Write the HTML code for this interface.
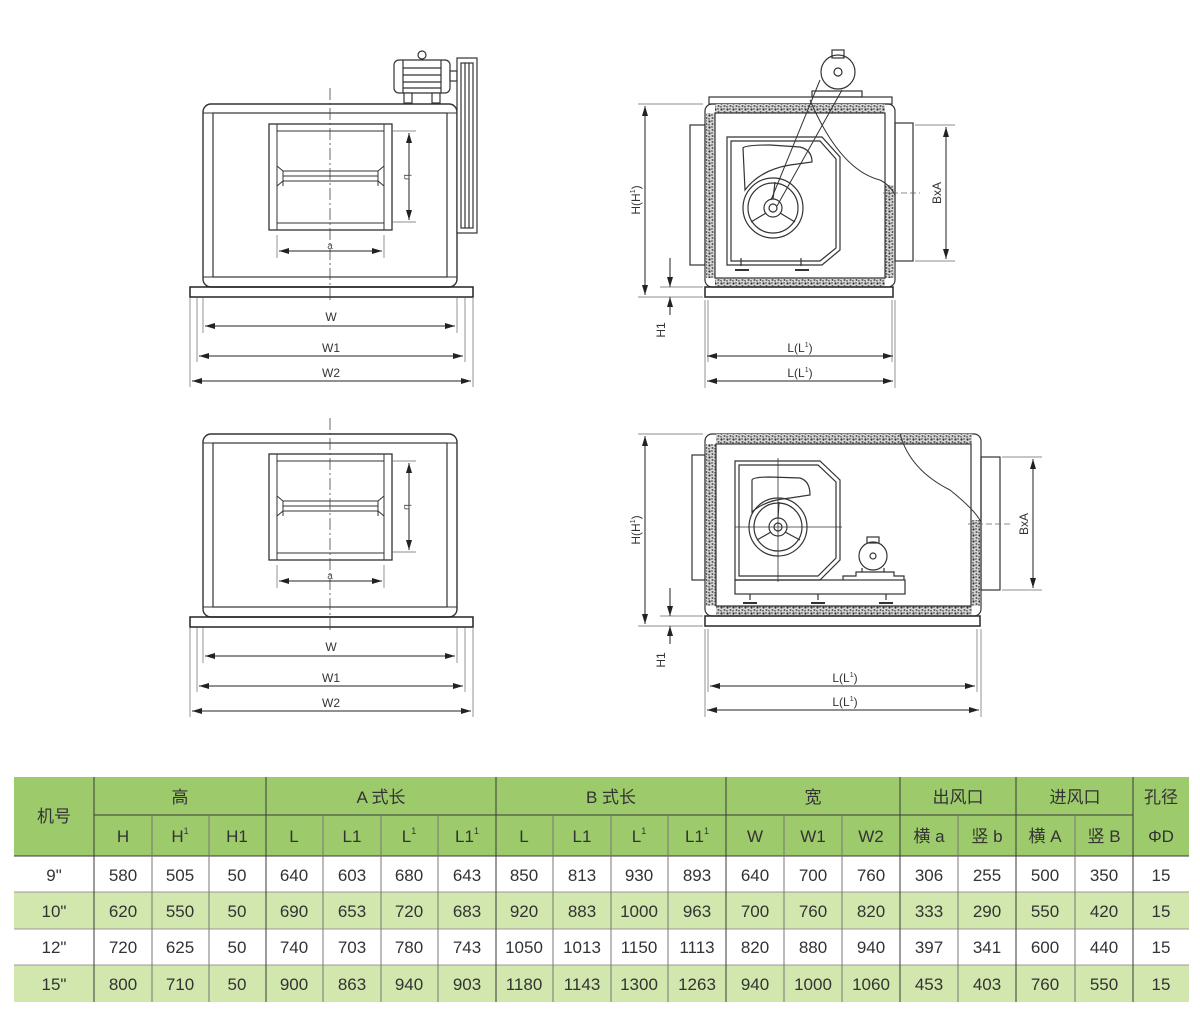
<!DOCTYPE html>
<html><head><meta charset="utf-8">
<style>
html,body{margin:0;padding:0;background:#fff;}
body{width:1200px;height:1010px;position:relative;overflow:hidden;font-family:"Liberation Sans","Noto Sans CJK SC",sans-serif;}
svg text{font-family:"Liberation Sans","Noto Sans CJK SC",sans-serif;}
</style></head><body>
<svg width="1200" height="1010" viewBox="0 0 1200 1010" xmlns="http://www.w3.org/2000/svg">
<defs>
<pattern id="ins" width="6" height="6" patternUnits="userSpaceOnUse">
<rect width="6" height="6" fill="#d6d6d6"/>
<circle cx="1.5" cy="1.5" r="1.1" fill="#333"/><circle cx="4.5" cy="4" r="1" fill="#555"/><circle cx="4" cy="1" r="0.7" fill="#222"/><circle cx="1" cy="4.8" r="0.8" fill="#444"/>
</pattern>
<marker id="ar" viewBox="0 0 10 6" refX="10" refY="3" markerWidth="10" markerHeight="6" orient="auto-start-reverse" markerUnits="userSpaceOnUse"><path d="M0,0 L10,3 L0,6z" fill="#222"/></marker>
<g id="front">
 <rect x="203" y="104" width="254" height="183" rx="8" fill="none" stroke="#333" stroke-width="1.4"/>
 <rect x="213" y="113" width="234" height="164" fill="none" stroke="#333" stroke-width="1.2"/>
 <line x1="203" y1="113" x2="457" y2="113" stroke="#333"/><line x1="203" y1="277" x2="457" y2="277" stroke="#333"/>
 <rect x="190" y="287" width="283" height="10" fill="none" stroke="#222" stroke-width="1.5"/>
 <rect x="269" y="124" width="123" height="106" fill="none" stroke="#333" stroke-width="1.3"/>
 <rect x="277" y="124" width="107" height="106" fill="none" stroke="#333"/>
 <line x1="277" y1="131" x2="384" y2="131" stroke="#333"/>
 <line x1="277" y1="223" x2="384" y2="223" stroke="#333"/>
 <path d="M277,166 L283,171 L378,171 L384,166 M277,186 L283,181 L378,181 L384,186" fill="none" stroke="#333"/>
 <line x1="283" y1="176" x2="378" y2="176" stroke="#333"/>
 <line x1="283" y1="171" x2="283" y2="186" stroke="#333"/><line x1="378" y1="171" x2="378" y2="186" stroke="#333"/>
 <line x1="330" y1="88" x2="330" y2="300" stroke="#444" stroke-width="0.8" stroke-dasharray="12,3,2,3"/>
 <line x1="277" y1="235" x2="277" y2="258" stroke="#666" stroke-width="0.7"/><line x1="384" y1="235" x2="384" y2="258" stroke="#666" stroke-width="0.7"/>
 <line x1="279" y1="251" x2="382" y2="251" stroke="#222" marker-start="url(#ar)" marker-end="url(#ar)"/>
 <text x="330" y="249" font-size="10" text-anchor="middle" fill="#555">a</text>
 <line x1="392" y1="131" x2="416" y2="131" stroke="#666" stroke-width="0.7"/><line x1="392" y1="222" x2="416" y2="222" stroke="#666" stroke-width="0.7"/>
 <line x1="409" y1="133" x2="409" y2="220" stroke="#222" marker-start="url(#ar)" marker-end="url(#ar)"/>
 <text x="404" y="177" font-size="10" text-anchor="middle" fill="#555" transform="rotate(90 404 177)">b</text>
 <line x1="203" y1="298" x2="203" y2="333" stroke="#666" stroke-width="0.7"/><line x1="457" y1="298" x2="457" y2="333" stroke="#666" stroke-width="0.7"/>
 <line x1="197" y1="298" x2="197" y2="362" stroke="#666" stroke-width="0.7"/><line x1="465" y1="298" x2="465" y2="362" stroke="#666" stroke-width="0.7"/>
 <line x1="190" y1="298" x2="190" y2="387" stroke="#666" stroke-width="0.7"/><line x1="473" y1="298" x2="473" y2="387" stroke="#666" stroke-width="0.7"/>
 <line x1="205" y1="326" x2="455" y2="326" stroke="#222" marker-start="url(#ar)" marker-end="url(#ar)"/>
 <line x1="199" y1="356" x2="463" y2="356" stroke="#222" marker-start="url(#ar)" marker-end="url(#ar)"/>
 <line x1="192" y1="381" x2="471" y2="381" stroke="#222" marker-start="url(#ar)" marker-end="url(#ar)"/>
 <text x="331" y="321" font-size="12" text-anchor="middle" fill="#333">W</text>
 <text x="331" y="352" font-size="12" text-anchor="middle" fill="#333">W1</text>
 <text x="331" y="377" font-size="12" text-anchor="middle" fill="#333">W2</text>
</g>
</defs>

<use href="#front"/>
<g stroke="#333" fill="#fff" stroke-width="1.2">
 <rect x="394" y="60" width="56" height="33" rx="5"/>
 <line x1="403" y1="68" x2="441" y2="68"/><line x1="403" y1="75" x2="441" y2="75"/><line x1="403" y1="82" x2="441" y2="82"/><line x1="403" y1="88" x2="441" y2="88"/>
 <line x1="403" y1="60" x2="403" y2="93"/><line x1="441" y1="60" x2="441" y2="93"/>
 <rect x="404" y="93" width="8" height="10"/><rect x="432" y="93" width="8" height="10"/>
 <circle cx="422" cy="55" r="4"/>
 <rect x="450" y="71" width="7" height="10"/>
 <rect x="457" y="58" width="20" height="175"/>
 <rect x="461" y="63" width="12" height="165" fill="none"/>
 <line x1="465" y1="63" x2="465" y2="228"/><line x1="469" y1="63" x2="469" y2="228"/>
</g>
<g transform="translate(0,330)"><use href="#front"/></g>

<g stroke="#333" fill="none" stroke-width="1.2">
 <rect x="709" y="97" width="183" height="7"/>
 <rect x="705" y="104" width="190" height="183" rx="7"/>
 <rect x="715" y="104" width="170" height="9" fill="url(#ins)" stroke="none"/>
 <rect x="715" y="278" width="170" height="9" fill="url(#ins)" stroke="none"/>
 <rect x="706" y="113" width="9" height="165" fill="url(#ins)" stroke="none"/>
 <rect x="885" y="185" width="9" height="93" fill="url(#ins)" stroke="none"/>
 <rect x="715" y="113" width="170" height="165"/>
 <rect x="690" y="125" width="15" height="140"/>
 <rect x="895" y="123" width="18" height="138"/>
 <rect x="705" y="287" width="188" height="10" stroke-width="1.6"/>
 <path d="M727,137 L822,137 L840,157 L840,250 L822,265 L727,265 Z"/>
 <path d="M731,141 L820,141 L836,159 L836,248 L820,261 L731,261 Z"/>
 <path d="M743,148 Q745,145 770,145 L800,147 Q812,150 812,162 L790,165 Q760,170 745,190 Z"/>
 <circle cx="773" cy="208" r="30"/><circle cx="773" cy="208" r="25"/>
 <circle cx="773" cy="208" r="9"/><circle cx="773" cy="208" r="4"/>
 <path d="M773,199 L775,182 M766,213 L751,222 M780,213 L795,222"/>
 <path d="M771,200 L820,80 M777,206 L842,90" stroke-width="1"/>
 <circle cx="838" cy="72" r="17" fill="#fff"/><circle cx="838" cy="72" r="4"/>
 <rect x="832" y="50" width="12" height="8"/>
 <rect x="812" y="91" width="50" height="6"/>
 <path d="M810,100 Q840,170 880,180 Q890,185 895,195" stroke-width="1"/>
 <path d="M741,258 v8 M801,258 v8"/><path d="M735,270 h14 M795,270 h14" stroke-width="2"/>
</g>
<g stroke="#666" stroke-width="0.7">
 <line x1="638" y1="104" x2="703" y2="104"/><line x1="638" y1="297" x2="703" y2="297"/><line x1="660" y1="287" x2="703" y2="287"/>
 <line x1="705" y1="300" x2="705" y2="388"/><line x1="708" y1="300" x2="708" y2="362"/><line x1="892" y1="300" x2="892" y2="362"/><line x1="895" y1="300" x2="895" y2="388"/>
 <line x1="915" y1="125" x2="955" y2="125"/><line x1="915" y1="261" x2="955" y2="261"/>
 <line x1="883" y1="193" x2="920" y2="193" stroke-dasharray="6,3"/>
</g>
<g stroke="#222" stroke-width="1">
 <line x1="645" y1="106" x2="645" y2="295" marker-start="url(#ar)" marker-end="url(#ar)"/>
 <line x1="670" y1="258" x2="670" y2="287" marker-end="url(#ar)"/>
 <line x1="670" y1="315" x2="670" y2="297" marker-end="url(#ar)"/>
 <line x1="707" y1="356" x2="893" y2="356" marker-start="url(#ar)" marker-end="url(#ar)"/>
 <line x1="707" y1="381" x2="893" y2="381" marker-start="url(#ar)" marker-end="url(#ar)"/>
 <line x1="946" y1="127" x2="946" y2="259" marker-start="url(#ar)" marker-end="url(#ar)"/>
</g>
<g fill="#333" font-size="12">
 <text x="800" y="352" text-anchor="middle">L(L<tspan font-size="7" dy="-5">1</tspan><tspan dy="5">)</tspan></text>
 <text x="800" y="377" text-anchor="middle">L(L<tspan font-size="7" dy="-5">1</tspan><tspan dy="5">)</tspan></text>
 <text x="640" y="200" text-anchor="middle" transform="rotate(-90 640 200)">H(H<tspan font-size="7" dy="-5">1</tspan><tspan dy="5">)</tspan></text>
 <text x="665" y="330" text-anchor="middle" transform="rotate(-90 665 330)">H1</text>
 <text x="941" y="193" text-anchor="middle" transform="rotate(-90 941 193)">BxA</text>
</g>

<g stroke="#333" fill="none" stroke-width="1.2">
 <rect x="705" y="434" width="276" height="182" rx="7"/>
 <rect x="716" y="434" width="256" height="10" fill="url(#ins)" stroke="none"/>
 <rect x="716" y="606" width="256" height="10" fill="url(#ins)" stroke="none"/>
 <rect x="706" y="444" width="10" height="162" fill="url(#ins)" stroke="none"/>
 <rect x="971" y="520" width="9" height="86" fill="url(#ins)" stroke="none"/>
 <rect x="716" y="444" width="255" height="162"/>
 <rect x="692" y="455" width="13" height="125"/>
 <rect x="981" y="457" width="19" height="133"/>
 <rect x="705" y="616" width="275" height="10" stroke-width="1.6"/>
 <path d="M735,461 L820,461 L840,480 L840,560 L820,580 L735,580 Z"/>
 <path d="M739,465 L818,465 L836,482 L836,558 L818,576 L739,576 Z"/>
 <path d="M752,480 Q753,477 770,477 L800,478 Q810,481 810,495 L790,498 Q765,500 752,512 Z"/>
 <circle cx="778" cy="527" r="29"/><circle cx="778" cy="527" r="24"/>
 <circle cx="778" cy="527" r="9"/><circle cx="778" cy="527" r="4"/>
 <path d="M778,518 L779,502 M771,532 L757,540 M785,532 L800,540"/>
 <line x1="735" y1="527" x2="842" y2="527" stroke-width="0.8"/>
 <line x1="778" y1="458" x2="778" y2="582" stroke-width="0.8"/>
 <rect x="735" y="580" width="170" height="14"/>
 <path d="M843,580 v-4 h13 v-4 h38 v4 h10 v4"/>
 <circle cx="873" cy="556" r="14" fill="#fff"/><circle cx="873" cy="556" r="3"/>
 <rect x="867" y="537" width="12" height="6"/>
 <path d="M862,568 v4 M884,568 v4"/>
 <path d="M750,594 v6 M818,594 v6 M886,594 v6"/><path d="M743,603 h14 M811,603 h14 M879,603 h14" stroke-width="2"/>
 <path d="M900,434 Q910,470 950,490 Q975,510 981,522" stroke-width="1"/>
</g>
<g stroke="#666" stroke-width="0.7">
 <line x1="638" y1="434" x2="703" y2="434"/><line x1="638" y1="626" x2="703" y2="626"/><line x1="660" y1="616" x2="703" y2="616"/>
 <line x1="705" y1="629" x2="705" y2="717"/><line x1="708" y1="629" x2="708" y2="692"/><line x1="977" y1="629" x2="977" y2="692"/><line x1="981" y1="629" x2="981" y2="717"/>
 <line x1="1002" y1="457" x2="1042" y2="457"/><line x1="1002" y1="590" x2="1042" y2="590"/>
 <line x1="968" y1="524" x2="1010" y2="524" stroke-dasharray="6,3"/>
</g>
<g stroke="#222" stroke-width="1">
 <line x1="645" y1="436" x2="645" y2="624" marker-start="url(#ar)" marker-end="url(#ar)"/>
 <line x1="670" y1="588" x2="670" y2="616" marker-end="url(#ar)"/>
 <line x1="670" y1="644" x2="670" y2="626" marker-end="url(#ar)"/>
 <line x1="710" y1="686" x2="975" y2="686" marker-start="url(#ar)" marker-end="url(#ar)"/>
 <line x1="707" y1="710" x2="979" y2="710" marker-start="url(#ar)" marker-end="url(#ar)"/>
 <line x1="1033" y1="459" x2="1033" y2="588" marker-start="url(#ar)" marker-end="url(#ar)"/>
</g>
<g fill="#333" font-size="12">
 <text x="845" y="682" text-anchor="middle">L(L<tspan font-size="7" dy="-5">1</tspan><tspan dy="5">)</tspan></text>
 <text x="845" y="706" text-anchor="middle">L(L<tspan font-size="7" dy="-5">1</tspan><tspan dy="5">)</tspan></text>
 <text x="640" y="530" text-anchor="middle" transform="rotate(-90 640 530)">H(H<tspan font-size="7" dy="-5">1</tspan><tspan dy="5">)</tspan></text>
 <text x="665" y="660" text-anchor="middle" transform="rotate(-90 665 660)">H1</text>
 <text x="1028" y="524" text-anchor="middle" transform="rotate(-90 1028 524)">BxA</text>
</g>

<g>
 <rect x="14" y="777" width="1175" height="79" fill="#9dca6b"/>
 <rect x="14" y="856" width="1175" height="36" fill="#fff"/>
 <rect x="14" y="892" width="1175" height="37" fill="#d1e7ae"/>
 <rect x="14" y="929" width="1175" height="36" fill="#fff"/>
 <rect x="14" y="965" width="1175" height="37" fill="#d1e7ae"/>
 <g stroke="#3a3a3a" stroke-width="1">
  <line x1="94" y1="815" x2="1133" y2="815"/>
  <line x1="14" y1="856" x2="1189" y2="856"/>
  <line x1="14" y1="892" x2="1189" y2="892" stroke="#999"/>
  <line x1="14" y1="929" x2="1189" y2="929" stroke="#999"/>
  <line x1="14" y1="965" x2="1189" y2="965" stroke="#999"/>
  <line x1="94" y1="777" x2="94" y2="1002"/><line x1="266" y1="777" x2="266" y2="1002"/><line x1="496" y1="777" x2="496" y2="1002"/><line x1="726" y1="777" x2="726" y2="1002"/><line x1="900" y1="777" x2="900" y2="1002"/><line x1="1016" y1="777" x2="1016" y2="1002"/><line x1="1133" y1="777" x2="1133" y2="1002"/>
  <g stroke="#777">
  <line x1="152" y1="815" x2="152" y2="1002"/><line x1="209" y1="815" x2="209" y2="1002"/>
  <line x1="323" y1="815" x2="323" y2="1002"/><line x1="381" y1="815" x2="381" y2="1002"/><line x1="438" y1="815" x2="438" y2="1002"/>
  <line x1="553" y1="815" x2="553" y2="1002"/><line x1="611" y1="815" x2="611" y2="1002"/><line x1="668" y1="815" x2="668" y2="1002"/>
  <line x1="784" y1="815" x2="784" y2="1002"/><line x1="842" y1="815" x2="842" y2="1002"/>
  <line x1="958" y1="815" x2="958" y2="1002"/><line x1="1075" y1="815" x2="1075" y2="1002"/>
  </g>
 </g>
 <g font-size="17" fill="#333" text-anchor="middle">
  <text x="54" y="822">机号</text>
  <text x="180" y="803">高</text><text x="381" y="803">A 式长</text><text x="611" y="803">B 式长</text>
  <text x="813" y="803">宽</text><text x="958" y="803">出风口</text><text x="1075" y="803">进风口</text><text x="1161" y="803">孔径</text>
 </g>
 <g font-size="17" fill="#333" text-anchor="middle">
  <text x="123" y="842">H</text><text x="180" y="842">H<tspan font-size="9" dy="-8">1</tspan></text><text x="237" y="842">H1</text>
  <text x="294" y="842">L</text><text x="352" y="842">L1</text><text x="409" y="842">L<tspan font-size="9" dy="-8">1</tspan></text><text x="467" y="842">L1<tspan font-size="9" dy="-8">1</tspan></text>
  <text x="524" y="842">L</text><text x="582" y="842">L1</text><text x="639" y="842">L<tspan font-size="9" dy="-8">1</tspan></text><text x="697" y="842">L1<tspan font-size="9" dy="-8">1</tspan></text>
  <text x="755" y="842">W</text><text x="813" y="842">W1</text><text x="871" y="842">W2</text>
  <text x="929" y="842">横 a</text><text x="987" y="842">竖 b</text><text x="1045" y="842">横 A</text><text x="1104" y="842">竖 B</text><text x="1161" y="842">ΦD</text>
 </g>
 <g font-size="17" fill="#333" text-anchor="middle">
  <g transform="translate(0,881)">
   <text x="54">9"</text><text x="123">580</text><text x="180">505</text><text x="237">50</text><text x="294">640</text><text x="352">603</text><text x="409">680</text><text x="467">643</text><text x="524">850</text><text x="582">813</text><text x="639">930</text><text x="697">893</text><text x="755">640</text><text x="813">700</text><text x="871">760</text><text x="929">306</text><text x="987">255</text><text x="1045">500</text><text x="1104">350</text><text x="1161">15</text>
  </g>
  <g transform="translate(0,917)">
   <text x="54">10"</text><text x="123">620</text><text x="180">550</text><text x="237">50</text><text x="294">690</text><text x="352">653</text><text x="409">720</text><text x="467">683</text><text x="524">920</text><text x="582">883</text><text x="639">1000</text><text x="697">963</text><text x="755">700</text><text x="813">760</text><text x="871">820</text><text x="929">333</text><text x="987">290</text><text x="1045">550</text><text x="1104">420</text><text x="1161">15</text>
  </g>
  <g transform="translate(0,953)">
   <text x="54">12"</text><text x="123">720</text><text x="180">625</text><text x="237">50</text><text x="294">740</text><text x="352">703</text><text x="409">780</text><text x="467">743</text><text x="524">1050</text><text x="582">1013</text><text x="639">1150</text><text x="697">1113</text><text x="755">820</text><text x="813">880</text><text x="871">940</text><text x="929">397</text><text x="987">341</text><text x="1045">600</text><text x="1104">440</text><text x="1161">15</text>
  </g>
  <g transform="translate(0,990)">
   <text x="54">15"</text><text x="123">800</text><text x="180">710</text><text x="237">50</text><text x="294">900</text><text x="352">863</text><text x="409">940</text><text x="467">903</text><text x="524">1180</text><text x="582">1143</text><text x="639">1300</text><text x="697">1263</text><text x="755">940</text><text x="813">1000</text><text x="871">1060</text><text x="929">453</text><text x="987">403</text><text x="1045">760</text><text x="1104">550</text><text x="1161">15</text>
  </g>
 </g>
</g>
</svg>
</body></html>
